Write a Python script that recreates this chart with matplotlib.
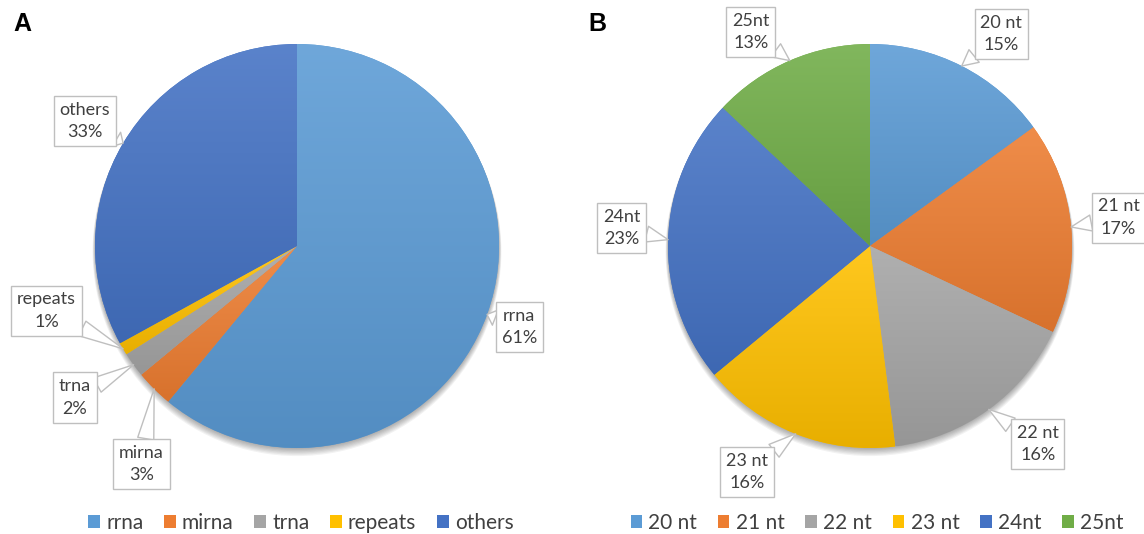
import matplotlib.pyplot as plt
import numpy as np
from matplotlib.colors import to_rgb

# panel A: small RNA classes (%)
classes = ["rrna", "mirna", "trna", "repeats", "others"]
class_pct = [61, 3, 2, 1, 33]
class_colors = ["#5B9BD5", "#ED7D31", "#A5A5A5", "#FFC000", "#4472C4"]

# panel B: read length distribution (%)
lengths = ["20 nt", "21 nt", "22 nt", "23 nt", "24nt", "25nt"]
length_pct = [15, 17, 16, 16, 23, 13]
length_colors = ["#5B9BD5", "#ED7D31", "#A5A5A5", "#FFC000", "#4472C4", "#70AD47"]

# callout box centres, in pie radii from the pie centre
label_pos_a = [(1.10, -0.40), (-0.77, -1.08), (-1.10, -0.75), (-1.24, -0.32), (-1.05, 0.62)]
label_pos_b = [(0.65, 1.05), (1.23, 0.14), (0.83, -0.98), (-0.61, -1.12), (-1.23, 0.09), (-0.59, 1.06)]

plt.rcParams['font.family'] = ['Lato', 'DejaVu Sans']

W, H, R = 1144, 534, 202  # figure size and pie radius in pixels
fig = plt.figure(figsize=(W / 100, H / 100), dpi=100)


def shade(c, f):
    c = np.array(to_rgb(c))
    if f > 0:
        return c + (1 - c) * f
    return c * (1 + f)


def draw_pie(x0, x1, cx, cy, labels, values, colors, label_pos, legend_x):
    ax = fig.add_axes([x0 / W, 0, (x1 - x0) / W, 1])
    wedges, _ = ax.pie(values, colors=colors, startangle=90, counterclock=False,
                       wedgeprops=dict(linewidth=0))

    # soft drop shadow, mostly under the bottom edge
    for k in range(7):
        ax.add_patch(plt.Circle((0.0, -0.004 * (k + 1)), 1.0 + 0.002 * k, color='k',
                                alpha=0.05, lw=0, zorder=0))

    # vertical gradient inside every slice
    grad = np.linspace(0, 1, 256)[:, None, None]
    for w, c in zip(wedges, colors):
        ext = w.get_path().transformed(w.get_patch_transform()).get_extents()
        img = shade(c, 0.12) * (1 - grad) + shade(c, -0.09) * grad
        im = ax.imshow(img, extent=(ext.x0, ext.x1, ext.y0, ext.y1), origin='upper',
                       aspect='auto', zorder=2, interpolation='bilinear')
        im.set_clip_path(w)

    ax.set_aspect('auto')
    ax.set_xlim((x0 - cx) / R, (x1 - cx) / R)
    ax.set_ylim(-(H - cy) / R, cy / R)
    ax.axis('off')

    total = sum(values)
    cum = np.cumsum(values)
    for name, v, c_end, (lx, ly) in zip(labels, values, cum, label_pos):
        mid = np.deg2rad(90 - 360 * (c_end - v / 2) / total)
        tip = (np.cos(mid), np.sin(mid))
        ax.annotate(f"{name}\n{v}%", xy=tip, xytext=(lx, ly), ha='center', va='center',
                    fontsize=13, color='#404040', linespacing=1.5, zorder=4,
                    bbox=dict(boxstyle='square,pad=0.32', fc='white', ec='#BFBFBF', lw=1),
                    arrowprops=dict(arrowstyle='wedge,tail_width=0.9', fc='white',
                                    ec='#BFBFBF', lw=1, shrinkA=0, shrinkB=0))

    ax.legend(wedges, labels, loc='center', bbox_to_anchor=(legend_x / W, 11 / H),
              bbox_transform=fig.transFigure, ncol=len(labels), frameon=False,
              fontsize=15, handlelength=0.55, handleheight=0.55, handletextpad=0.3,
              columnspacing=1.0, labelcolor='#404040', borderpad=0)
    return ax


draw_pie(0, 572, 297, 246, classes, class_pct, class_colors, label_pos_a, 301)
draw_pie(572, 1144, 870, 246, lengths, length_pct, length_colors, label_pos_b, 877)

fig.text(22 / W, 1 - 24 / H, "A", ha='center', va='center', fontsize=18,
         fontweight='bold', family='Liberation Sans')
fig.text(597 / W, 1 - 24 / H, "B", ha='center', va='center', fontsize=18,
         fontweight='bold', family='Liberation Sans')

fig.savefig("out.png", dpi=100)
